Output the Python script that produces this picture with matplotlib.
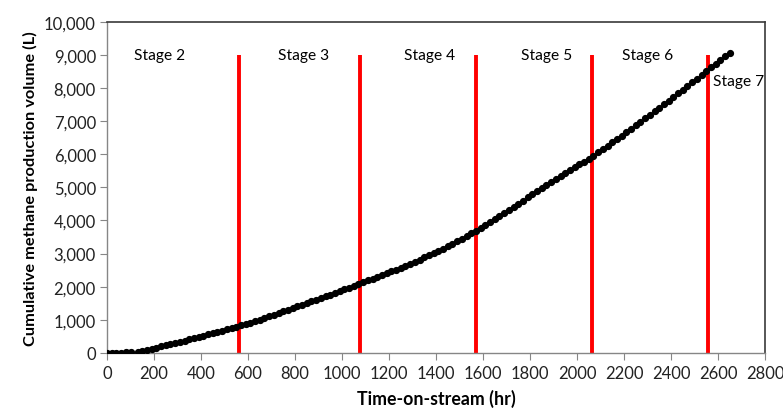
import matplotlib
matplotlib.use("Agg")
import matplotlib.pyplot as plt
from matplotlib.ticker import FuncFormatter, MultipleLocator

plt.rcParams['font.family'] = ['Lato', 'DejaVu Sans']

time_hr = [0, 20, 40, 60, 80, 100, 130, 150, 170, 190, 210, 230, 250, 270, 290, 310, 330, 350,
           370, 390, 410, 430, 450, 470, 490, 510, 530, 550, 570, 590, 610, 630, 650, 670, 690,
           710, 730, 750, 770, 790, 810, 830, 850, 870, 890, 910, 930, 950, 970, 990, 1010,
           1030, 1050, 1070, 1090, 1110, 1130, 1150, 1170, 1190, 1210, 1230, 1250, 1270, 1290,
           1310, 1330, 1350, 1370, 1390, 1410, 1430, 1450, 1470, 1490, 1510, 1530, 1550, 1570,
           1590, 1610, 1630, 1650, 1670, 1690, 1710, 1730, 1750, 1770, 1790, 1810, 1830, 1850,
           1870, 1890, 1910, 1930, 1950, 1970, 1990, 2010, 2030, 2050, 2070, 2090, 2110, 2130,
           2150, 2170, 2190, 2210, 2230, 2250, 2270, 2290, 2310, 2330, 2350, 2370, 2390, 2410,
           2430, 2450, 2470, 2490, 2510, 2530, 2550, 2570, 2590, 2610, 2630, 2650]
methane_L = [0, 5, 10, 12, 15, 20, 40, 70, 100, 130, 165, 200, 235, 270, 305, 340, 375, 410,
             445, 480, 520, 560, 600, 640, 675, 710, 750, 790, 830, 875, 920, 965, 1010, 1060, 1110,
             1160, 1210, 1260, 1310, 1360, 1410, 1460, 1510, 1560, 1610, 1660, 1710, 1760, 1810, 1860, 1920,
             1970, 2030, 2080, 2130, 2190, 2240, 2300, 2350, 2400, 2460, 2520, 2580, 2640, 2700,
             2760, 2820, 2890, 2950, 3010, 3080, 3150, 3220, 3290, 3370, 3450, 3530, 3610, 3690,
             3780, 3870, 3960, 4050, 4140, 4230, 4320, 4410, 4510, 4600, 4700, 4790, 4880, 4970,
             5060, 5150, 5240, 5330, 5420, 5510, 5600, 5690, 5780, 5870, 5960, 6060, 6160, 6260,
             6360, 6460, 6560, 6660, 6760, 6870, 6970, 7080, 7180, 7290, 7400, 7510, 7620, 7730,
             7840, 7950, 8060, 8170, 8280, 8390, 8510, 8620, 8730, 8840, 8950, 9070]

stage_boundaries = [563, 1077, 1572, 2065, 2556]
stage_labels = ["Stage 2", "Stage 3", "Stage 4", "Stage 5", "Stage 6", "Stage 7"]
stage_label_x = [225, 838, 1374, 1872, 2300, 2580]
stage_label_y = [9000, 9000, 9000, 9000, 9000, 8220]

fig = plt.figure(figsize=(7.83, 4.10), dpi=100)
ax = fig.add_axes([0.1367, 0.1366, 0.8403, 0.808])

ax.vlines(stage_boundaries, 0, 9000, colors='#ff0000', linewidth=2.8, zorder=2)
ax.plot(time_hr, methane_L, 'o', color='black', markersize=4.2, zorder=3)

for i, (lab, lx, ly) in enumerate(zip(stage_labels, stage_label_x, stage_label_y)):
    ha = 'left' if i == len(stage_labels) - 1 else 'center'
    ax.text(lx, ly, lab, ha=ha, va='center', fontsize=11.2, color='black')

ax.set_xlim(0, 2800)
ax.set_ylim(0, 10000)
ax.xaxis.set_major_locator(MultipleLocator(200))
ax.yaxis.set_major_locator(MultipleLocator(1000))
ax.yaxis.set_major_formatter(FuncFormatter(lambda v, p: f"{int(v):,}"))

for s in ['left', 'bottom']:
    ax.spines[s].set_color('#868686')
    ax.spines[s].set_linewidth(1.0)
for s in ['top', 'right']:
    ax.spines[s].set_color('#3a3a3a')
    ax.spines[s].set_linewidth(1.2)

ax.tick_params(axis='both', direction='out', length=5, color='#868686', labelsize=12,
               labelcolor='#222222')
ax.tick_params(axis='x', pad=4)
ax.tick_params(axis='y', pad=3)

ax.set_xlabel("Time-on-stream (hr)", fontsize=12.8, fontweight='bold', labelpad=5)
ax.set_ylabel("Cumulative methane production volume (L)", fontsize=11.8, fontweight='bold',
              labelpad=4)

fig.savefig("out.png", dpi=100)
